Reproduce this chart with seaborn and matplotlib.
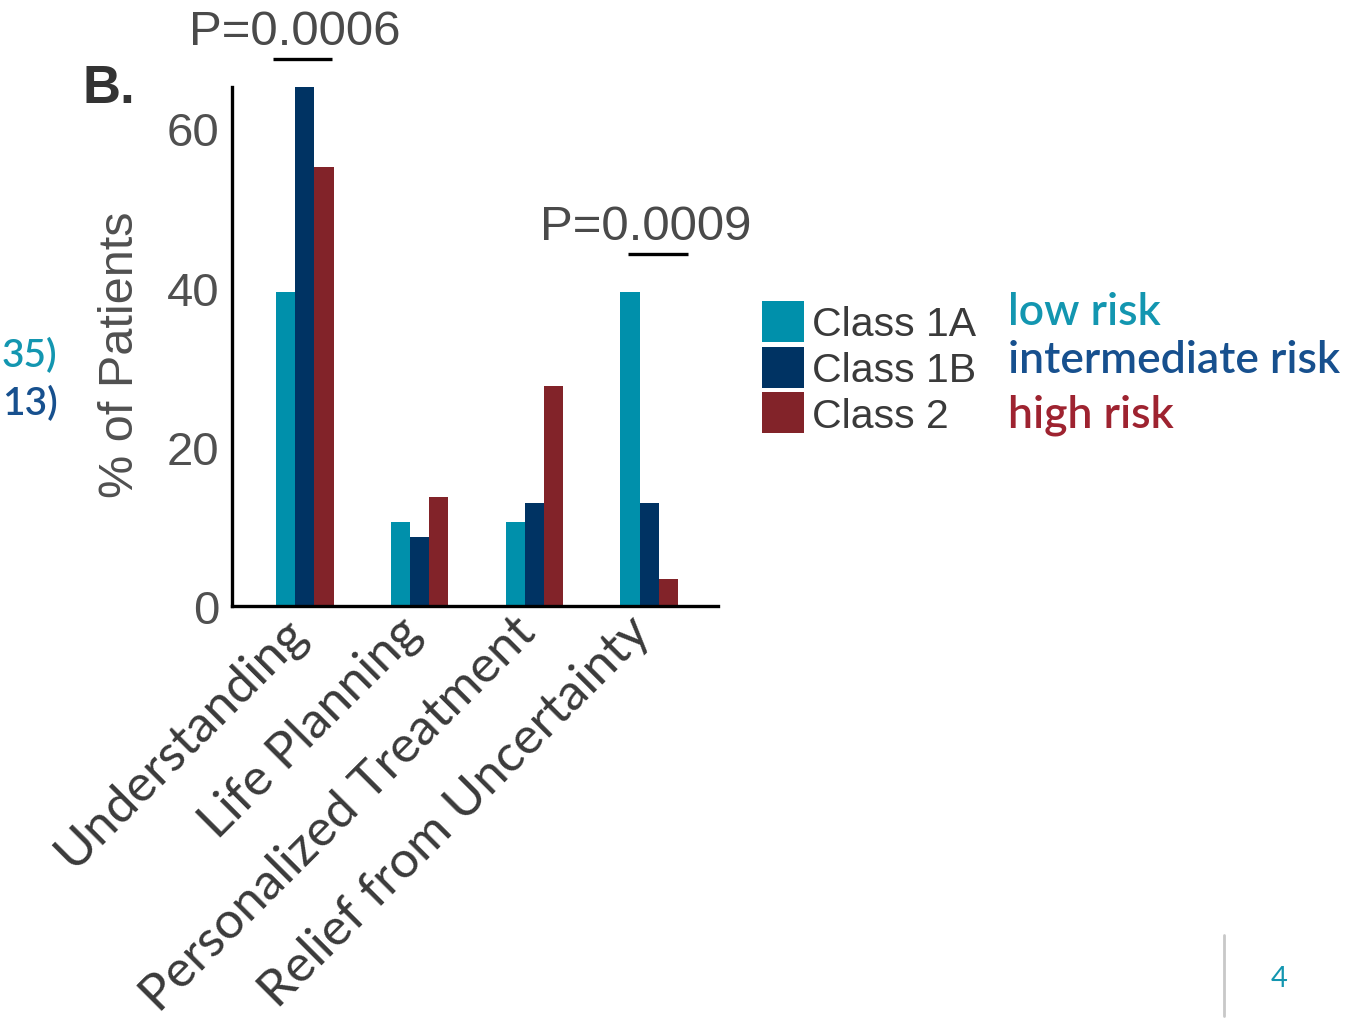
import matplotlib
matplotlib.use("Agg")
import matplotlib.pyplot as plt
import matplotlib.transforms as mtransforms
import seaborn as sns
import pandas as pd

# ---------------- data ----------------
categories = ["Understanding", "Life Planning", "Personalized Treatment", "Relief from Uncertainty"]
classes = ["Class 1A", "Class 1B", "Class 2"]
class_1a = [39.4, 10.6, 10.6, 39.4]
class_1b = [65.2, 8.7, 13.0, 13.0]
class_2 = [55.2, 13.7, 27.6, 3.4]
y_ticks = [0, 20, 40, 60]
p_labels = ["P=0.0006", "P=0.0009"]
p_category_index = [0, 3]
p_bracket_y = [68.7, 44.2]
risk_labels = ["low risk", "intermediate risk", "high risk"]
left_fragments = ["35)", "13)"]
page_number = "4"

# ---------------- style ----------------
bar_colors = ["#0090AB", "#003363", "#822329"]
risk_colors = ["#1396B0", "#17508E", "#9E2330"]
W, H = 1350, 1020

sns.set_style("white")
plt.rcParams["font.family"] = ["Liberation Sans", "DejaVu Sans"]

rows = []
for cls, vals in zip(classes, [class_1a, class_1b, class_2]):
    for cat, v in zip(categories, vals):
        rows.append({"category": cat, "pct": v, "cls": cls})
df = pd.DataFrame(rows)

fig = plt.figure(figsize=(W / 100, H / 100), dpi=100)
ax = fig.add_axes([232 / W, 1 - 607 / H, (718 - 232) / W, (607 - 88) / H])

sns.barplot(data=df, x="category", y="pct", hue="cls", order=categories,
            hue_order=classes, palette=bar_colors, width=0.5, saturation=1,
            linewidth=0, ax=ax)

ax.set_ylim(0, 65.2)
ax.set_xlim(-0.635, 3.6)
ax.set_yticks(y_ticks)
ax.set_xlabel("")
ax.set_ylabel("% of Patients", fontsize=35, color="#505050")
ax.yaxis.set_label_coords((143 - 232) / 486, (607 - 355) / 519)

for s in ["top", "right"]:
    ax.spines[s].set_visible(False)
for s in ["left", "bottom"]:
    ax.spines[s].set_linewidth(2.4)
    ax.spines[s].set_color("black")

ax.tick_params(axis="both", length=6, width=2.2, color="#333333", direction="out")
ax.tick_params(axis="y", labelsize=34, labelcolor="#505050", pad=3)
ax.tick_params(axis="x", pad=0)
ax.set_xticks(range(len(categories)))
ax.set_xticklabels(categories, rotation=45, ha="right", va="top",
                   rotation_mode="anchor", fontsize=37, color="#3a3a3a",
                   family=["Lato", "DejaVu Sans"])
shift = mtransforms.ScaledTranslation(-23 / 100, 7 / 100, fig.dpi_scale_trans)
for lbl in ax.get_xticklabels():
    lbl.set_transform(lbl.get_transform() + shift)

# legend
sns.move_legend(ax, "upper left", bbox_to_anchor=(762 / W, 1 - 302 / H),
                bbox_transform=fig.transFigure, frameon=False, title=None,
                fontsize=29.5, handlelength=1.03, handleheight=1.16,
                labelspacing=0.08, handletextpad=0.2, borderpad=0,
                borderaxespad=0)
leg = ax.get_legend()
for t in leg.get_texts():
    t.set_color("#3a3a3a")

# significance brackets
for lab, ci, by in zip(p_labels, p_category_index, p_bracket_y):
    off = -0.28 if ci == 0 else -0.18
    ax.plot([ci + off, ci + off + 0.52], [by, by], color="black", lw=2.4,
            clip_on=False, solid_capstyle="butt")
    dx = 0.19 if ci == 0 else 0.15
    ax.text(ci + off + dx, by + 1.9, lab, ha="center", va="baseline",
            fontsize=35.5, color="#4a4a4a", clip_on=False)

# panel letter
fig.text(83 / W, 1 - 103 / H, "B.", fontsize=38, fontweight="bold",
         color="#333333", ha="left", va="baseline")

# risk labels
for i, (lab, col) in enumerate(zip(risk_labels, risk_colors)):
    yb = [325, 373, 427][i]
    fig.text(1008 / W, 1 - yb / H, lab, fontsize=32, color=col,
             family=["Lato", "DejaVu Sans"], fontweight="semibold",
             ha="left", va="baseline")

# fragments at left edge (remnants of text from a neighbouring panel)
for txt, col, yb in zip(left_fragments, risk_colors[:2], [367, 415]):
    fig.text(2 / W, 1 - yb / H, txt, fontsize=28, color=col,
             family=["Lato", "DejaVu Sans"], fontweight="semibold",
             ha="left", va="baseline")

# page number and divider
fig.add_artist(plt.Line2D([1224 / W, 1224 / W], [1 - 1017 / H, 1 - 936 / H],
                          color="#c8c8c8", lw=2, transform=fig.transFigure))
fig.text(1279 / W, 1 - 987 / H, page_number, fontsize=21, color="#1396B0",
         family=["Lato", "DejaVu Sans"], ha="center", va="baseline")

fig.savefig("out.png", dpi=100)
